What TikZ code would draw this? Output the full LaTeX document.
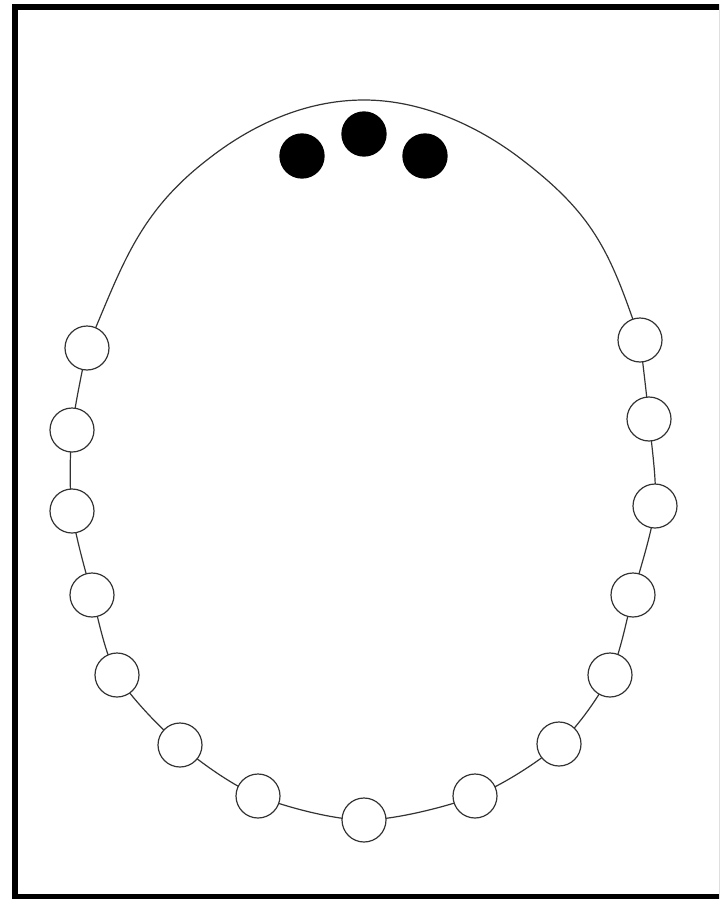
\documentclass[tikz,border=0pt]{standalone}
\usetikzlibrary{calc, positioning}

\tikzset{
  bead/.style={circle, draw=black!80, fill=white, line width=0.9pt,
    minimum size=33pt, inner sep=0pt},
  dot/.style={circle, fill=black, minimum size=34pt, inner sep=0pt},
  rim/.style={draw=black!80, line width=0.9pt}
}

\begin{document}
\begin{tikzpicture}[x=0.75pt, y=-0.75pt]
\useasboundingbox (0,0) rectangle (719,899);
\clip (0,0) rectangle (719,899);

% frame
\draw[line width=4.5pt] (15,7) rectangle (722,897);

% points of the upper arc
\coordinate (top) at (364,100);
\coordinate (ul) at (207,160);
\coordinate (ur) at (525,162);

% positions of the beads, left and right
\coordinate (pl1) at (87,348);
\coordinate (pl2) at (72,430);
\coordinate (pl3) at (72,511);
\coordinate (pl4) at (92,595);
\coordinate (pl5) at (117,675);
\coordinate (pl6) at (180,745);
\coordinate (pl7) at (258,796);
\coordinate (pb)  at (364,820);
\coordinate (pr7) at (475,796);
\coordinate (pr6) at (559,744);
\coordinate (pr5) at (610,675);
\coordinate (pr4) at (633,595);
\coordinate (pr3) at (655,506);
\coordinate (pr2) at (649,419);
\coordinate (pr1) at (640,340);

% upper arc
\draw[rim]
  (pl1) .. controls (121,270) and (136,215) .. (ul)
        .. controls (250,126) and (304,100) .. (top)
        .. controls (424,100) and (482,128) .. (ur)
        .. controls (596,217) and (611,255) .. (pr1);

% lower part
\draw[rim]
  plot[smooth] coordinates {
    (pr1) (pr2) (pr3) (pr4) (pr5) (pr6) (pr7)
    (pb) (pl7) (pl6) (pl5) (pl4) (pl3) (pl2) (pl1)};

\foreach \p in {l1,l2,l3,l4,l5,l6,l7,b,r7,r6,r5,r4,r3,r2,r1}
  \node[bead] (\p) at (p\p) {};

\node[dot] (d1) at (302,156) {};
\node[dot] (d2) at (364,134) {};
\node[dot] (d3) at (425,156) {};
\end{tikzpicture}
\end{document}
